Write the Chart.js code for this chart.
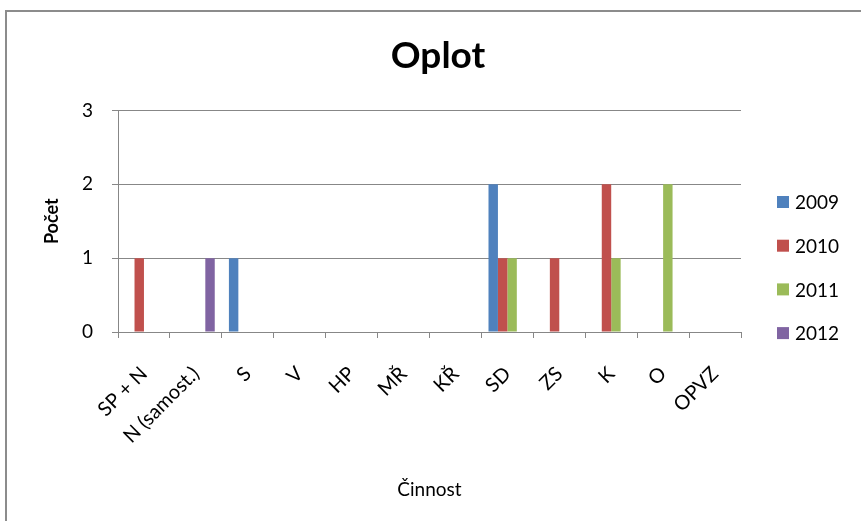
<!DOCTYPE html>
<html>
<head>
<meta charset="utf-8">
<script src="https://cdn.jsdelivr.net/npm/chart.js@4.4.0/dist/chart.umd.min.js"></script>
<style>
  html, body { margin: 0; padding: 0; background: #fff; }
  #wrap { position: relative; width: 861px; height: 521px; overflow: hidden; }
  #frame { position: absolute; left: 5px; top: 10px; width: 900px; height: 600px;
           border-top: 2px solid #8c8c8c; border-left: 2px solid #8c8c8c; }
  canvas { position: absolute; left: 0; top: 0; }
</style>
</head>
<body>
<div id="wrap">
  <div id="frame"></div>
  <canvas id="chart" width="861" height="521"></canvas>
</div>
<script>
// Data
const categories = ['SP + N', 'N (samost.)', 'S', 'V', 'HP', 'MŘ', 'KŘ', 'SD', 'ZS', 'K', 'O', 'OPVZ'];
const seriesNames = ['2009', '2010', '2011', '2012'];
const values2009 = [0, 0, 1, 0, 0, 0, 0, 2, 0, 0, 0, 0];
const values2010 = [1, 0, 0, 0, 0, 0, 0, 1, 1, 2, 0, 0];
const values2011 = [0, 0, 0, 0, 0, 0, 0, 1, 0, 1, 2, 0];
const values2012 = [0, 1, 0, 0, 0, 0, 0, 0, 0, 0, 0, 0];
const yTicks = [0, 1, 2, 3];
const colors = ['#4F81BD', '#C0504D', '#9BBB59', '#8064A2'];

const FONT = 'Lato, Calibri, "Open Sans", sans-serif';
const GRID = '#878787';

const allValues = [values2009, values2010, values2011, values2012];

// legend drawn at the right, like the original
const sideLegend = {
  id: 'sideLegend',
  afterDraw(chart) {
    const ctx = chart.ctx;
    ctx.save();
    ctx.font = '19px ' + FONT;
    ctx.textBaseline = 'middle';
    ctx.textAlign = 'left';
    chart.data.datasets.forEach((ds, i) => {
      const y = 202 + i * 43.7;
      ctx.fillStyle = ds.backgroundColor;
      ctx.fillRect(777, y - 6, 12, 12);
      ctx.fillStyle = '#000';
      ctx.fillText(ds.label, 795, y + 1);
    });
    ctx.restore();
  }
};

const ctx = document.getElementById('chart').getContext('2d');
const chart = new Chart(ctx, {
  type: 'bar',
  data: {
    labels: categories,
    datasets: seriesNames.map((name, i) => ({
      label: name,
      data: allValues[i],
      backgroundColor: colors[i],
      borderWidth: 0,
      categoryPercentage: 4 / 5.5,
      barPercentage: 1
    }))
  },
  options: {
    responsive: false,
    animation: false,
    layout: { padding: { left: 15, right: 0, top: 12, bottom: 10 } },
    plugins: {
      legend: { display: false },
      tooltip: { enabled: false },
      title: {
        display: true,
        text: 'Oplot',
        color: '#000',
        font: { family: FONT, size: 37, weight: 'bold' },
        padding: { top: 22, bottom: 32 }
      }
    },
    scales: {
      x: {
        afterFit(scale) { scale.height = 179; },
        grid: {
          display: true,
          drawOnChartArea: false,
          drawTicks: true,
          tickLength: 6,
          color: GRID,
          offset: true
        },
        border: { display: true, color: GRID, width: 1 },
        ticks: {
          color: '#000',
          font: { family: FONT, size: 20 },
          minRotation: 45,
          maxRotation: 45,
          autoSkip: false,
          padding: 24
        },
        title: {
          display: true,
          text: 'Činnost',
          color: '#000',
          font: { family: FONT, size: 19 },
          padding: { top: 0, bottom: 10 }
        }
      },
      y: {
        min: 0,
        max: 3,
        afterFit(scale) { scale.width = 103; },
        afterBuildTicks(scale) { scale.ticks = yTicks.map(v => ({ value: v })); },
        grid: { color: GRID, tickLength: 6, lineWidth: 1 },
        border: { display: true, color: GRID, width: 1 },
        ticks: {
          color: '#000',
          font: { family: FONT, size: 19 },
          padding: 19
        },
        title: {
          display: true,
          text: 'Počet',
          color: '#000',
          font: { family: FONT, size: 18, weight: 'bold' },
          padding: { top: 26, bottom: 0 }
        }
      },
      // empty box on the right that keeps room for the legend
      legendRoom: {
        type: 'linear',
        position: 'right',
        afterFit(scale) { scale.width = 120; },
        grid: { drawOnChartArea: false, drawTicks: false },
        border: { display: false },
        ticks: { display: false }
      }
    }
  },
  plugins: [sideLegend]
});
</script>
</body>
</html>
